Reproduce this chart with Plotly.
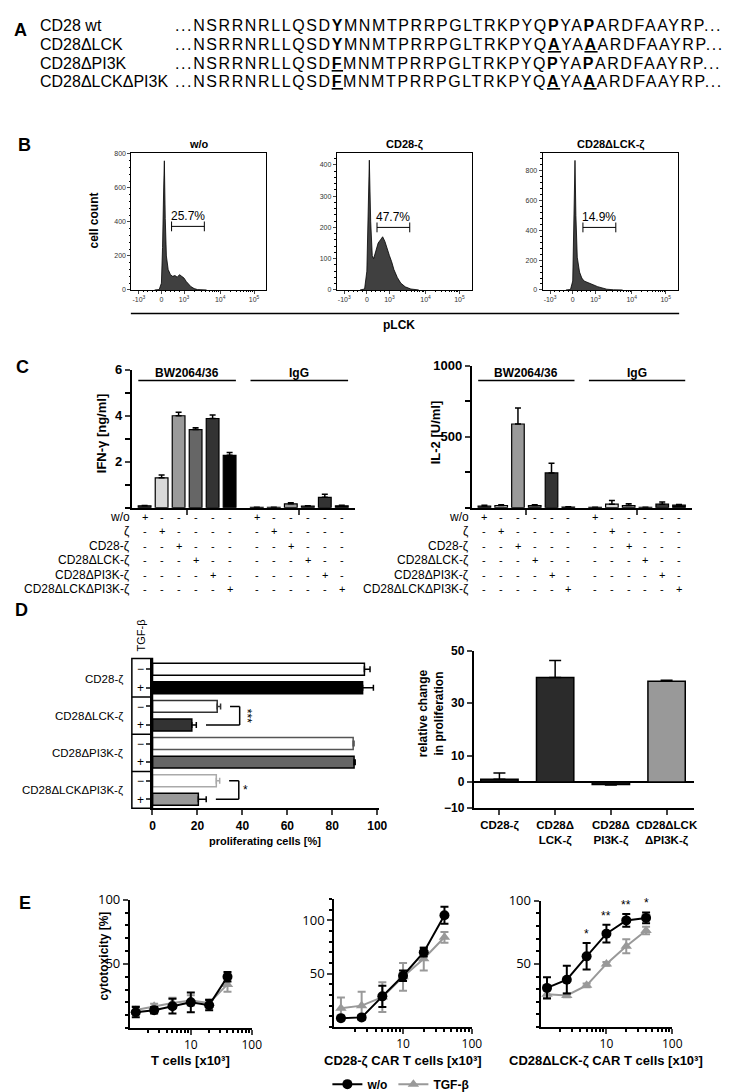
import math
import plotly.graph_objects as go

W, H = 746, 1092
FONT = "Liberation Sans, Arial, sans-serif"

# ---------------- data ----------------
# Panel A: sequence alignment
seq_names = ["CD28 wt", "CD28ΔLCK", "CD28ΔPI3K", "CD28ΔLCKΔPI3K"]
seq_pre = "...NSRRNRLLQSD"
seq_site1 = ["Y", "Y", "F", "F"]
seq_mid = "MNMTPRRPGLTRKPYQ"
seq_site2 = ["P", "A", "P", "A"]
seq_link = "YA"
seq_post = "ARDFAAYRP..."

# Panel B: pLCK histograms (display position on biexponential axis, cell count)
hist_titles = ["w/o", "CD28-ζ", "CD28ΔLCK-ζ"]
hist_wo_x = [-0.3, -0.1, 0.0, 0.05, 0.1, 0.13, 0.17, 0.22, 0.3, 0.4, 0.5, 0.6, 0.7, 0.8, 0.9, 1.0, 1.1, 1.2, 1.3, 1.45, 1.6, 2.0]
hist_wo_y = [0, 2, 40, 250, 600, 760, 420, 200, 120, 90, 80, 85, 75, 90, 80, 70, 50, 35, 20, 8, 2, 0]
hist_cd28_x = [-0.3, -0.1, 0.0, 0.05, 0.11, 0.17, 0.24, 0.3, 0.4, 0.5, 0.6, 0.7, 0.8, 0.9, 1.0, 1.1, 1.2, 1.35, 1.5, 1.7, 1.95, 2.3]
hist_cd28_y = [0, 3, 60, 250, 415, 220, 110, 100, 130, 150, 160, 170, 155, 130, 110, 90, 65, 40, 22, 10, 3, 0]
hist_dlck_x = [-0.3, -0.1, 0.0, 0.05, 0.1, 0.14, 0.2, 0.3, 0.4, 0.5, 0.7, 0.9, 1.1, 1.3, 1.5, 1.8, 2.2]
hist_dlck_y = [0, 3, 60, 400, 870, 500, 220, 120, 80, 60, 45, 35, 22, 12, 5, 1, 0]
hist_ymax = [806, 438, 920]
hist_ydtick = [200, 100, 200]
gate_labels = ["25.7%", "47.7%", "14.9%"]
gate_level = [374, 200, 420]
gate_from, gate_to = 0.45, 1.9
b_tickvals = [-1, 0, 1, 2.6, 4.1]
b_ticktext = ["-10<sup>3</sup>", "0", "10<sup>3</sup>", "10<sup>4</sup>", "10<sup>5</sup>"]

# Panel C: cytokine secretion
c_constructs = ["w/o", "ζ", "CD28-ζ", "CD28ΔLCK-ζ", "CD28ΔPI3K-ζ", "CD28ΔLCKΔPI3K-ζ"]
c_colors = ["#3a3a3a", "#d9d9d9", "#9a9a9a", "#666666", "#333333", "#000000"]
ifn_bw = [0.08, 1.3, 4.0, 3.4, 3.88, 2.28]
ifn_bw_err = [0.02, 0.12, 0.15, 0.08, 0.15, 0.12]
ifn_igg = [0.02, 0.02, 0.17, 0.07, 0.45, 0.08]
ifn_igg_err = [0.0, 0.0, 0.04, 0.02, 0.13, 0.03]
il2_bw = [12, 15, 590, 15, 245, 5]
il2_bw_err = [5, 5, 112, 6, 68, 2]
il2_igg = [3, 25, 15, 2, 25, 18]
il2_igg_err = [1, 25, 12, 1, 15, 5]
c_groups = ["BW2064/36", "IgG"]

# Panel D: proliferation
d_constructs = ["CD28-ζ", "CD28ΔLCK-ζ", "CD28ΔPI3K-ζ", "CD28ΔLCKΔPI3K-ζ"]
prolif_wo = [94.3, 28.8, 89.3, 28.4]
prolif_wo_err = [2.5, 1.5, 0.4, 1.5]
prolif_tgf = [93.5, 17.5, 89.7, 20.4]
prolif_tgf_err = [4.8, 2.0, 0.5, 3.5]
d_wo_outline = ["#000000", "#333333", "#555555", "#aaaaaa"]
d_tgf_fill = ["#000000", "#333333", "#666666", "#999999"]
d_sig = ["", "***", "", "*"]
rel_change = [1.0, 39.8, -1.0, 38.3]
rel_err_up = [2.4, 6.4, 0.0, 0.4]
rel_err_down = [0.0, 0.0, 0.2, 0.0]
rel_labels = ["CD28-ζ", "CD28Δ<br>LCK-ζ", "CD28Δ<br>PI3K-ζ", "CD28ΔLCK<br>ΔPI3K-ζ"]
rel_colors = ["#111111", "#2b2b2b", "#111111", "#999999"]

# Panel E: cytotoxicity
e_cells = [1.25, 2.5, 5, 10, 20, 40]
e_titles = ["T cells [x10³]", "CD28-ζ CAR T cells [x10³]", "CD28ΔLCK-ζ CAR T cells [x10³]"]
e1_wo = [12.3, 13.8, 17, 20, 17.8, 40]
e1_wo_err = [4, 2.5, 5.8, 7.7, 4, 3.7]
e1_tgf = [14, 17, 19.5, 21.5, 19.5, 34]
e1_tgf_err = [3, 2, 4, 4, 3, 5.8]
e2_wo = [8.3, 9, 28.7, 48, 70, 104.6]
e2_wo_err = [2, 2, 10, 5, 4, 8]
e2_tgf = [17.6, 20, 28, 47, 64, 84]
e2_tgf_err = [10, 13, 14, 13, 11, 5]
e3_wo = [31, 37.5, 56, 74, 84.5, 86.5]
e3_wo_err = [8.5, 11, 10.5, 7, 5, 4.3]
e3_tgf = [26, 25, 33, 50, 64, 76.5]
e3_tgf_err = [3, 1.5, 1.5, 1.5, 5.5, 3]
e3_sig = ["", "", "*", "**", "**", "*"]

# ---------------- helpers ----------------
def xd(a, b):
    return [a / W, b / W]


def yd(top, bot):
    return [1 - bot / H, 1 - top / H]


ann = []
shapes = []


def T(x, y, t, size=12, bold=False, xa="center", ya="middle", angle=0, color="black",
      xref="paper", yref="paper", family=FONT, yshift=0, xshift=0):
    if xref == "paper":
        x = x / W
    if yref == "paper":
        y = 1 - y / H
    ann.append(dict(x=x, y=y, xref=xref, yref=yref, text=t, showarrow=False, xanchor=xa,
                    yanchor=ya, textangle=angle, yshift=yshift, xshift=xshift, borderpad=0,
                    font=dict(size=size, color=color, family=family,
                              weight="bold" if bold else "normal")))


def L(x0, y0, x1, y1, width=1.5, color="black", xref="paper", yref="paper"):
    if xref == "paper":
        x0, x1 = x0 / W, x1 / W
    if yref == "paper":
        y0, y1 = 1 - y0 / H, 1 - y1 / H
    shapes.append(dict(type="line", x0=x0, y0=y0, x1=x1, y1=y1, xref=xref, yref=yref,
                       line=dict(color=color, width=width)))


fig = go.Figure()
layout = {}

# ---------------- Panel labels ----------------
for lab, (lx, ly) in zip("ABCDE", [(10, 13), (14, 130), (12, 355), (11, 602), (14, 899)]):
    T(lx, ly, lab, size=18, bold=True)

# ---------------- Panel A ----------------
def site(res, wt):
    if res == wt:
        return "<b>%s</b>" % res
    return "<b><u>%s</u></b>" % res


row_y = [9, 28, 47, 65]
for i, nm in enumerate(seq_names):
    s = (seq_pre + site(seq_site1[i], seq_site1[0]) + seq_mid + site(seq_site2[i], seq_site2[0])
         + seq_link + site(seq_site2[i], seq_site2[0]) + seq_post)
    T(29, row_y[i], nm, size=16, xa="left")
    T(166, row_y[i], '<span style="letter-spacing:1.6px">%s</span>' % s, size=16, xa="left")

# ---------------- Panel B ----------------
b_dom_x = [(122.5, 260), (331.6, 469), (541, 679)]
hist_xs = [hist_wo_x, hist_cd28_x, hist_dlck_x]
hist_ys = [hist_wo_y, hist_cd28_y, hist_dlck_y]
b_minor = ([-0.8, -0.6, -0.4, -0.2, 0.2, 0.4, 0.6, 0.8]
           + [1 + 1.6 * math.log10(k) for k in range(2, 10)]
           + [2.6 + 1.5 * math.log10(k) for k in range(2, 10)])
for k in range(3):
    xa = "x" if k == 0 else "x%d" % (k + 1)
    ya = "y" if k == 0 else "y%d" % (k + 1)
    fig.add_trace(go.Scatter(x=hist_xs[k], y=hist_ys[k], mode="lines", fill="tozeroy",
                             fillcolor="#404040", line=dict(color="black", width=0.8),
                             xaxis=xa, yaxis=ya, showlegend=False, hoverinfo="skip"))
    fig.add_trace(go.Scatter(x=[gate_from, gate_to], y=[gate_level[k]] * 2, mode="lines+markers",
                             line=dict(color="black", width=1),
                             marker=dict(symbol="line-ns", size=7, line=dict(width=1, color="black")),
                             xaxis=xa, yaxis=ya, showlegend=False, hoverinfo="skip"))
    T((gate_from + gate_to) / 2, gate_level[k], gate_labels[k], size=12, xref=xa, yref=ya,
      ya="bottom", yshift=2)
    x0, x1 = b_dom_x[k]
    T((x0 + x1) / 2, 129, hist_titles[k], size=11, bold=True)
    key = "" if k == 0 else str(k + 1)
    layout["xaxis" + key] = dict(domain=xd(x0, x1), anchor=ya, range=[-1.33, 4.65],
                                 showline=True, mirror=True, linecolor="black", linewidth=1,
                                 showgrid=False, zeroline=False, ticks="outside", ticklen=3,
                                 tickvals=b_tickvals, ticktext=b_ticktext,
                                 tickfont=dict(size=7, color="#333"),
                                 minor=dict(ticks="outside", ticklen=1.5, tickvals=b_minor,
                                            tickcolor="black"))
    layout["yaxis" + key] = dict(domain=yd(138, 277), anchor=xa, range=[0, hist_ymax[k]],
                                 showline=True, mirror=True, linecolor="black", linewidth=1,
                                 showgrid=False, zeroline=False, ticks="outside", ticklen=3,
                                 dtick=hist_ydtick[k], tickfont=dict(size=7, color="#333"),
                                 minor=dict(ticks="outside", ticklen=1.5,
                                            dtick=hist_ydtick[k] / 5, tickcolor="black"))
T(84, 207, "cell count", size=12, bold=True, angle=-90)
L(122, 301, 680, 301, width=1.5)
T(395, 313, "pLCK", size=12, bold=True)

# ---------------- Panel C ----------------
pos_bw = [i for i in range(6)]
pos_igg = [6.6 + i for i in range(6)]


def cyto_chart(ax, bw, bw_err, igg, igg_err):
    xa, ya = "x%d" % ax, "y%d" % ax
    for pos, vals, err in [(pos_bw, bw, bw_err), (pos_igg, igg, igg_err)]:
        fig.add_trace(go.Bar(x=pos, y=vals, width=0.75, xaxis=xa, yaxis=ya,
                             marker=dict(color=c_colors, line=dict(color="black", width=1.2)),
                             error_y=dict(type="data", symmetric=False, array=err,
                                          arrayminus=[0] * len(err), color="black",
                                          thickness=1.5, width=3),
                             showlegend=False, hoverinfo="skip"))
    return xa, ya


for ax, bw, bwe, igg, igge, dom_x, dom_y, ymax, tv, mdt, title, tx, lab_x in [
        (4, ifn_bw, ifn_bw_err, ifn_igg, ifn_igg_err, (123, 350), (358, 498), 6,
         [2, 4, 6], 1, "IFN-γ [ng/ml]", 92, 122),
        (5, il2_bw, il2_bw_err, il2_igg, il2_igg_err, (469, 693), (354, 498), 1000,
         [500, 1000], 250, "IL-2 [U/ml]", 432, 467)]:
    xa, ya = cyto_chart(ax, bw, bwe, igg, igge)
    layout["xaxis%d" % ax] = dict(domain=xd(*dom_x), anchor=ya, range=[-0.75, 12.37],
                                  showline=True, linecolor="black", linewidth=2, showgrid=False,
                                  zeroline=False, ticks="outside", ticklen=5, tickwidth=2,
                                  tickvals=[2.5, 9.1], showticklabels=False)
    layout["yaxis%d" % ax] = dict(domain=yd(*dom_y), anchor=xa, range=[0, ymax],
                                  showline=True, linecolor="black", linewidth=2, showgrid=False,
                                  zeroline=False, ticks="outside", ticklen=5, tickwidth=2,
                                  tickvals=tv,
                                  tickfont=dict(size=13, family=FONT, weight="bold"),
                                  minor=dict(ticks="outside", ticklen=5, tickwidth=2, dtick=mdt,
                                             tick0=0, tickcolor="black"))
    T(tx, (dom_y[0] + dom_y[1]) / 2 - 5, title, size=13, bold=True, angle=-90)
    for g, pos in zip(c_groups, [pos_bw, pos_igg]):
        L(pos[0] - 0.37, 369, pos[-1] + 0.37, 369, width=1.5, xref=xa)
        T((pos[0] + pos[-1]) / 2, 361, g, size=12, bold=True, xref=xa)
    rows_y = [507, 522, 537, 551, 566, 580]
    for r, cname in enumerate(c_constructs):
        T(lab_x, rows_y[r], cname, size=12, xa="right")
        for pos in [pos_bw, pos_igg]:
            for j, p in enumerate(pos):
                T(p, rows_y[r], "+" if j == r else "-", size=11, xref=xa)

# ---------------- Panel D (left) ----------------
d_pos = list(range(8))
for i in range(4):
    fig.add_trace(go.Bar(y=[2 * i], x=[prolif_wo[i]], orientation="h", width=0.64,
                         xaxis="x6", yaxis="y6",
                         marker=dict(color="white", line=dict(color=d_wo_outline[i], width=1.5)),
                         error_x=dict(type="data", symmetric=False, array=[prolif_wo_err[i]],
                                      arrayminus=[0], color=d_wo_outline[i], thickness=1.5, width=3),
                         showlegend=False, hoverinfo="skip"))
    fig.add_trace(go.Bar(y=[2 * i + 1], x=[prolif_tgf[i]], orientation="h", width=0.64,
                         xaxis="x6", yaxis="y6",
                         marker=dict(color=d_tgf_fill[i], line=dict(color="black", width=1.5)),
                         error_x=dict(type="data", symmetric=False, array=[prolif_tgf_err[i]],
                                      arrayminus=[0], color="black", thickness=1.5, width=3),
                         showlegend=False, hoverinfo="skip"))
    T(115, 2 * i + 0.5, d_constructs[i], size=11.5, xa="right", yref="y6")
    if d_sig[i]:
        end_wo = prolif_wo[i] + prolif_wo_err[i]
        end_tgf = prolif_tgf[i] + prolif_tgf_err[i]
        xv = end_wo + 8.5
        L(end_wo + 4.2, 2 * i, xv, 2 * i, xref="x6", yref="y6")
        L(xv, 2 * i, xv, 2 * i + 1, xref="x6", yref="y6")
        L(end_tgf + 4.3, 2 * i + 1, xv, 2 * i + 1, xref="x6", yref="y6")
        T(xv + 3.2, 2 * i + 0.5, d_sig[i], size=12, xref="x6", yref="y6",
          angle=90 if len(d_sig[i]) > 1 else 0)
# TGF-beta column box
shapes.append(dict(type="rect", x0=123 / W, x1=144 / W, y0=1 - 803 / H, y1=1 - 651 / H,
                   xref="paper", yref="paper", line=dict(color="black", width=1.5)))
for b in [1.5, 3.5, 5.5]:
    L(123, b, 144, b, width=1.5, yref="y6")
T(132, 628, "TGF-β", size=11, angle=-90)
layout["xaxis6"] = dict(domain=xd(144, 375), anchor="y6", range=[0, 101], showline=True,
                        linecolor="black", linewidth=2, showgrid=False, zeroline=False,
                        ticks="outside", ticklen=5, tickwidth=2, tickvals=[0, 20, 40, 60, 80, 100],
                        tickfont=dict(size=12, family=FONT, weight="bold"))
layout["yaxis6"] = dict(domain=yd(651, 803), anchor="x6", range=[7.48, -0.58], showline=True,
                        linecolor="black", linewidth=2, showgrid=False, zeroline=False,
                        ticks="outside", ticklen=4, tickwidth=1.5, tickvals=d_pos,
                        ticktext=["−", "+"] * 4, tickfont=dict(size=12, family=FONT))
T(259, 836, "proliferating cells [%]", size=11, bold=True)

# ---------------- Panel D (right) ----------------
fig.add_trace(go.Bar(x=list(range(4)), y=rel_change, width=0.67, xaxis="x7", yaxis="y7",
                     marker=dict(color=rel_colors, line=dict(color="black", width=1.5)),
                     error_y=dict(type="data", symmetric=False, array=rel_err_up,
                                  arrayminus=rel_err_down, color="black", thickness=1.5, width=6),
                     showlegend=False, hoverinfo="skip"))
layout["xaxis7"] = dict(domain=xd(471, 695), anchor="y7", range=[-0.46, 3.49], showline=True,
                        linecolor="black", linewidth=2, showgrid=False, zeroline=False,
                        ticks="outside", ticklen=5, tickwidth=2, tickvals=list(range(4)),
                        ticktext=rel_labels, tickfont=dict(size=11.5, family=FONT, weight="bold"))
layout["yaxis7"] = dict(domain=yd(643, 803), anchor="x7", range=[-10, 50], showline=True,
                        linecolor="black", linewidth=2, showgrid=False, zeroline=True,
                        zerolinecolor="black", zerolinewidth=2,
                        ticks="outside", ticklen=5, tickwidth=2, tickvals=[-10, 0, 10, 30, 50],
                        tickfont=dict(size=12, family=FONT, weight="bold"))
T(427, 707, "relative change<br>in proliferation", size=12, bold=True, angle=-90)

# ---------------- Panel E ----------------
e_sets = [(8, e1_wo, e1_wo_err, e1_tgf, e1_tgf_err, (121, 245), (896, 1026), 100),
          (9, e2_wo, e2_wo_err, e2_tgf, e2_tgf_err, (329, 469), (895, 1025), 120),
          (10, e3_wo, e3_wo_err, e3_tgf, e3_tgf_err, (539, 673), (897, 1025), 100)]
log_minor = [k for k in range(2, 10)] + [10 * k for k in range(2, 10)]
for idx, (ax, wo, woe, tgf, tgfe, dx, dy, ymax) in enumerate(e_sets):
    xa, ya = "x%d" % ax, "y%d" % ax
    fig.add_trace(go.Scatter(x=e_cells, y=tgf, mode="lines+markers", name="TGF-β",
                             legendrank=2, showlegend=(idx == 0), xaxis=xa, yaxis=ya,
                             line=dict(color="#999999", width=2),
                             marker=dict(symbol="triangle-up", size=10, color="#999999"),
                             error_y=dict(type="data", array=tgfe, color="#999999",
                                          thickness=2, width=4),
                             cliponaxis=False, hoverinfo="skip"))
    fig.add_trace(go.Scatter(x=e_cells, y=wo, mode="lines+markers", name="w/o",
                             legendrank=1, showlegend=(idx == 0), xaxis=xa, yaxis=ya,
                             line=dict(color="black", width=2),
                             marker=dict(symbol="circle", size=10, color="black"),
                             error_y=dict(type="data", array=woe, color="black",
                                          thickness=2, width=4),
                             cliponaxis=False, hoverinfo="skip"))
    layout["xaxis%d" % ax] = dict(domain=xd(*dx), anchor=ya, type="log", range=[0, 2],
                                  showline=True, linecolor="black", linewidth=2, showgrid=False,
                                  zeroline=False, ticks="outside", ticklen=5, tickwidth=2,
                                  tickvals=[10, 100], ticktext=["10", "100"],
                                  tickfont=dict(size=12, family="Open Sans, " + FONT),
                                  minor=dict(ticks="outside", ticklen=3, tickwidth=1.5,
                                             tickvals=log_minor, tickcolor="black"))
    layout["yaxis%d" % ax] = dict(domain=yd(*dy), anchor=xa, range=[0, ymax], showline=True,
                                  linecolor="black", linewidth=2, showgrid=False, zeroline=False,
                                  ticks="outside", ticklen=5, tickwidth=2, tickvals=[50, 100],
                                  tickfont=dict(size=13, family="Open Sans, " + FONT),
                                  minor=dict(ticks="outside", ticklen=3, tickwidth=1.5, dtick=10,
                                             tick0=0, tickcolor="black"))
    T((dx[0] + dx[1]) / 2, 1059, e_titles[idx], size=13, bold=True)
for i, s in enumerate(e3_sig):
    if s:
        T(math.log10(e_cells[i]), e3_wo[i] + e3_wo_err[i], s, size=12, xref="x10", yref="y10",
          ya="bottom", yshift=1)
T(95, 953, "cytotoxicity [%]", size=12, bold=True, angle=-90)

layout.update(dict(
    width=W, height=H, autosize=False,
    margin=dict(l=0, r=0, t=0, b=0),
    paper_bgcolor="white", plot_bgcolor="white",
    font=dict(family=FONT, color="black"),
    barmode="overlay",
    showlegend=True,
    legend=dict(orientation="h", x=322 / W, y=1 - 1083 / H, xanchor="left", yanchor="middle",
                font=dict(size=12, family=FONT, weight="bold"), itemwidth=30,
                bgcolor="rgba(0,0,0,0)", traceorder="normal"),
    annotations=ann, shapes=shapes,
))
fig.update_layout(**layout)
fig.write_html("out.html")
